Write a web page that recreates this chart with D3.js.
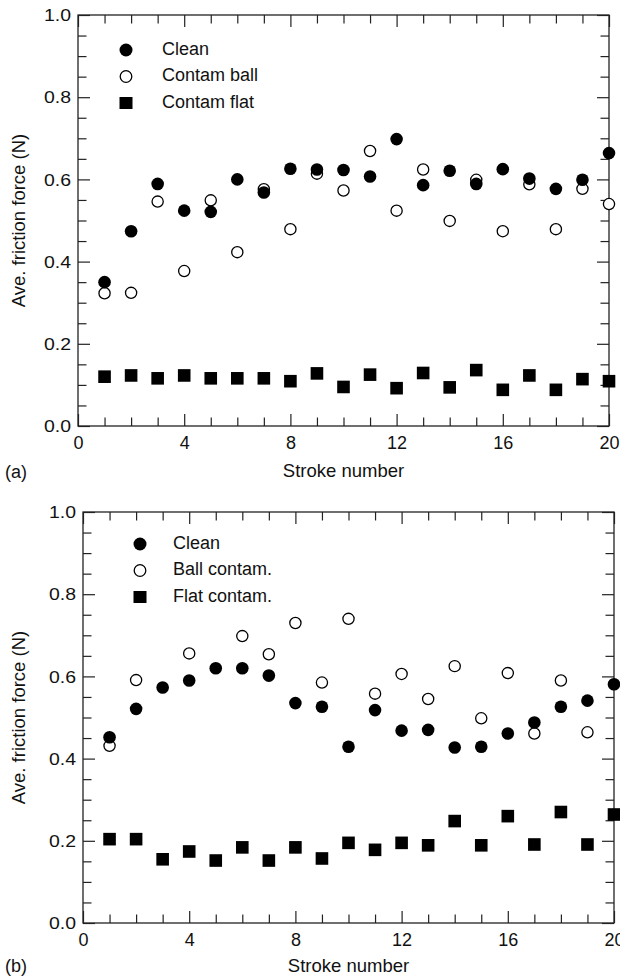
<!DOCTYPE html>
<html>
<head>
<meta charset="utf-8">
<script src="https://cdn.jsdelivr.net/npm/d3@7"></script>
<style>
body { margin: 0; background: #fff; }
text { font-family: "Liberation Sans", Arial, Helvetica, sans-serif; fill: #111; }
</style>
</head>
<body>
<div id="chart"></div>
<script>
// stroke numbers (x) and the values
var strokeNumbers = [1, 2, 3, 4, 5, 6, 7, 8, 9, 10, 11, 12, 13, 14, 15, 16, 17, 18, 19, 20];

var cleanA      = [0.350, 0.474, 0.589, 0.524, 0.521, 0.600, 0.568, 0.626, 0.624, 0.623, 0.607, 0.698, 0.586, 0.621, 0.589, 0.625, 0.602, 0.577, 0.599, 0.664];
var contamBallA = [0.323, 0.324, 0.546, 0.377, 0.549, 0.423, 0.576, 0.479, 0.614, 0.573, 0.669, 0.524, 0.624, 0.499, 0.599, 0.474, 0.588, 0.479, 0.577, 0.540];
var contamFlatA = [0.120, 0.123, 0.116, 0.123, 0.116, 0.116, 0.116, 0.109, 0.128, 0.095, 0.125, 0.092, 0.129, 0.094, 0.136, 0.088, 0.123, 0.088, 0.114, 0.109];

var cleanB      = [0.452, 0.521, 0.573, 0.590, 0.620, 0.620, 0.602, 0.535, 0.526, 0.429, 0.518, 0.468, 0.470, 0.427, 0.429, 0.461, 0.488, 0.526, 0.541, 0.581];
var ballContamB = [0.431, 0.591, null, 0.656, null, 0.698, 0.654, 0.730, 0.585, 0.740, 0.558, 0.606, 0.545, 0.625, 0.498, 0.608, 0.461, 0.590, 0.464, null];
var flatContamB = [0.204, 0.204, 0.155, 0.174, 0.152, 0.184, 0.152, 0.184, 0.157, 0.195, 0.178, 0.195, 0.189, 0.248, 0.189, 0.260, 0.191, 0.270, 0.191, 0.264];

var legendA = ["Clean", "Contam ball", "Contam flat"];
var legendB = ["Clean", "Ball contam.", "Flat contam."];

var xMajorTicks = [0, 4, 8, 12, 16, 20];
var yMajorTicks = [0, 0.2, 0.4, 0.6, 0.8, 1.0];
var xLabel = "Stroke number";
var yLabel = "Ave. friction force (N)";

var plotwidth = 531, plotheight = 411;

var svg = d3.select("#chart")
    .append("svg")
    .attr("width", 620)
    .attr("height", 978);

var x = d3.scaleLinear().domain([0, 20]).range([0, plotwidth]);
var y = d3.scaleLinear().domain([0, 1]).range([plotheight, 0]);

var xMinor = x.ticks(20).filter(d => xMajorTicks.indexOf(d) < 0);
var yMinor = y.ticks(20).filter(d => yMajorTicks.indexOf(Math.round(d * 10) / 10) < 0 || Math.round(d * 100) % 20 != 0);

function toPoints(vals) {
    return vals.map((v, i) => ({Stroke: strokeNumbers[i], Value: v})).filter(d => d.Value != null);
}

function styleAxis(g) {
    g.select(".domain").remove();
    g.selectAll("line").attr("stroke", "#222").attr("stroke-width", 1.2);
}

function buildPanel(opt) {
    var panel = svg.append("g")
        .attr("transform", "translate(" + opt.left + "," + opt.top + ")");

    // minor ticks on all four sides, pointing in
    panel.append("g").attr("transform", "translate(0," + plotheight + ")")
        .call(d3.axisBottom(x).tickValues(xMinor).tickSize(-8.5).tickFormat("")).call(styleAxis);
    panel.append("g")
        .call(d3.axisTop(x).tickValues(xMinor).tickSize(-8.5).tickFormat("")).call(styleAxis);
    panel.append("g")
        .call(d3.axisLeft(y).tickValues(yMinor).tickSize(-8.5).tickFormat("")).call(styleAxis);
    panel.append("g").attr("transform", "translate(" + plotwidth + ",0)")
        .call(d3.axisRight(y).tickValues(yMinor).tickSize(-8.5).tickFormat("")).call(styleAxis);

    // major ticks
    var bottom = panel.append("g").attr("transform", "translate(0," + plotheight + ")")
        .call(d3.axisBottom(x).tickValues(xMajorTicks).tickSize(-12).tickPadding(10.5).tickFormat(d3.format("d")))
        .call(styleAxis);
    bottom.selectAll("text").attr("font-size", 18).attr("font-family", null).attr("fill", "#111");

    panel.append("g")
        .call(d3.axisTop(x).tickValues(xMajorTicks).tickSize(-12).tickFormat("")).call(styleAxis);

    var left = panel.append("g")
        .call(d3.axisLeft(y).tickValues(yMajorTicks).tickSize(-12).tickPadding(7).tickFormat(d3.format(".1f")))
        .call(styleAxis);
    left.selectAll("text")
        .attr("font-size", 16).attr("font-family", null).attr("fill", "#111")
        .attr("dy", "0.36em")
        .attr("textLength", 27).attr("lengthAdjust", "spacingAndGlyphs");

    panel.append("g").attr("transform", "translate(" + plotwidth + ",0)")
        .call(d3.axisRight(y).tickValues(yMajorTicks).tickSize(-12).tickFormat("")).call(styleAxis);

    panel.append("rect")
        .attr("width", plotwidth)
        .attr("height", plotheight)
        .attr("fill", "none")
        .attr("stroke", "#222")
        .attr("stroke-width", 1.3);

    // open circles first, filled ones sit on top
    panel.append("g")
        .selectAll("circle")
        .data(toPoints(opt.series[1]))
        .enter()
        .append("circle")
            .attr("cx", d => x(d.Stroke))
            .attr("cy", d => y(d.Value))
            .attr("r", 5.6)
            .attr("fill", "#fff")
            .attr("stroke", "#000")
            .attr("stroke-width", 1.3);

    panel.append("g")
        .selectAll("circle")
        .data(toPoints(opt.series[0]))
        .enter()
        .append("circle")
            .attr("cx", d => x(d.Stroke))
            .attr("cy", d => y(d.Value))
            .attr("r", 6.3)
            .attr("fill", "#000");

    panel.append("g")
        .selectAll("rect")
        .data(toPoints(opt.series[2]))
        .enter()
        .append("rect")
            .attr("x", d => x(d.Stroke) - 6.3)
            .attr("y", d => y(d.Value) - 6.3)
            .attr("width", 12.6)
            .attr("height", 12.6)
            .attr("fill", "#000");

    // legend
    var legend = panel.append("g")
        .attr("transform", "translate(" + opt.legendX + "," + opt.legendY + ")");
    opt.names.forEach(function(name, i) {
        var row = legend.append("g").attr("transform", "translate(0," + (i * 26.5) + ")");
        if (i == 0) {
            row.append("circle").attr("r", 6.5).attr("fill", "#000");
        } else if (i == 1) {
            row.append("circle").attr("r", 5.8).attr("fill", "#fff").attr("stroke", "#000").attr("stroke-width", 1.3);
        } else {
            row.append("rect").attr("x", -6.5).attr("y", -6).attr("width", 13).attr("height", 12).attr("fill", "#000");
        }
        row.append("text")
            .attr("x", opt.legendText)
            .attr("y", 4.5)
            .attr("font-size", 18)
            .text(name);
    });

    panel.append("text")
        .attr("text-anchor", "middle")
        .attr("x", plotwidth / 2)
        .attr("y", plotheight + opt.xLabelGap)
        .attr("font-size", 18.5)
        .text(xLabel);

    panel.append("text")
        .attr("text-anchor", "middle")
        .attr("transform", "translate(" + opt.yLabelX + "," + (plotheight / 2) + ") rotate(-90)")
        .attr("font-size", 18.5)
        .text(yLabel);

    panel.append("text")
        .attr("x", 5 - opt.left)
        .attr("y", opt.tagY - opt.top)
        .attr("font-size", 18)
        .text(opt.tag);
}

buildPanel({left: 78, top: 15, series: [cleanA, contamBallA, contamFlatA], names: legendA,
    legendX: 48, legendY: 35, legendText: 36, xLabelGap: 51, yLabelX: -53, tag: "(a)", tagY: 478});
buildPanel({left: 83, top: 512, series: [cleanB, ballContamB, flatContamB], names: legendB,
    legendX: 57, legendY: 32, legendText: 33, xLabelGap: 49, yLabelX: -58, tag: "(b)", tagY: 972});
</script>
</body>
</html>
